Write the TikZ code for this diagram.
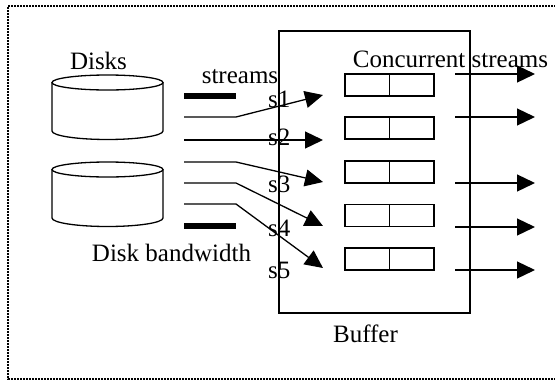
\documentclass[tikz,border=0pt]{standalone}
\usepackage{fontspec}
\setmainfont{Liberation Serif}
\usetikzlibrary{arrows.meta}
\begin{document}
\begin{tikzpicture}[x=1pt,y=-1pt,
  lbl/.style={inner sep=0pt,anchor=base,font=\fontsize{25}{30}\selectfont},
  slbl/.style={inner sep=0pt,anchor=base west,font=\fontsize{25}{30}\selectfont},
  ln/.style={line width=1.3pt,line join=miter},
  arr/.style={ln,-{Triangle[length=18pt,width=17pt]}},
  bar/.style={line width=6pt},
  slot/.style={draw,line width=1.3pt,minimum width=89pt,minimum height=22pt,inner sep=0pt},
  border/.style={line width=1.6pt,dash pattern=on 1.6pt off 1.4pt}]
\useasboundingbox (0,0) rectangle (555,381);
% border (right edge lies at the picture edge)
\draw[border] (556,6) -- (8,6) -- (8,379) -- (556,379);
% disks
\draw[ln] (107.5,82.5) ellipse [x radius=55.5pt,y radius=7.5pt];
\draw[ln] (52,82.5) -- (52,131) arc[start angle=180,end angle=360,x radius=55.5pt,y radius=8.5pt] -- (163,82.5);
\draw[ln] (107.5,169.5) ellipse [x radius=55.5pt,y radius=7.5pt];
\draw[ln] (52,169.5) -- (52,218) arc[start angle=180,end angle=360,x radius=55.5pt,y radius=8.5pt] -- (163,169.5);
% labels
\node[lbl] (disks) at (98.5,69) {Disks};
\node[lbl] (streams) at (240,83) {streams};
\node[lbl] (conc) at (450.5,67) {Concurrent streams};
\node[lbl] (bw) at (171.5,261) {Disk bandwidth};
\node[lbl] (bufl) at (365.5,342) {Buffer};
% buffer
\node[draw,line width=1.3pt,inner sep=0pt,minimum width=191pt,minimum height=282pt] (buffer) at (374.5,172) {};
% slots
\foreach \i/\y in {1/85,2/128,3/172,4/215.5,5/259}{
  \node[slot] (b\i) at (389.5,\y) {};
  \draw[ln] (b\i.north) -- (b\i.south);
}
% bars
\coordinate (bar1a) at (184,96); \coordinate (bar1b) at (236,96);
\coordinate (bar2a) at (184,226); \coordinate (bar2b) at (236,226);
\draw[bar] (bar1a) -- (bar1b);
\draw[bar] (bar2a) -- (bar2b);
% incoming streams
\foreach \i/\ya/\yt in {1/117/95,2/140/140,3/162/182,4/183/226,5/204/268}{
  \coordinate (sa\i) at (184,\ya);
  \coordinate (sb\i) at (236,\ya);
  \coordinate (st\i) at (323,\yt);
  \draw[arr] (sa\i) -- (sb\i) -- (st\i);
}
% s labels
\foreach \i/\y in {1/107,2/145,3/192,4/236,5/278}{
  \node[slbl] (s\i) at (268,\y) {s\i};
}
% outgoing streams
\foreach \i/\y in {1/74,2/117,3/183,4/227,5/270}{
  \coordinate (oa\i) at (455,\y);
  \coordinate (ob\i) at (535,\y);
  \draw[arr] (oa\i) -- (ob\i);
}
\end{tikzpicture}
\end{document}
